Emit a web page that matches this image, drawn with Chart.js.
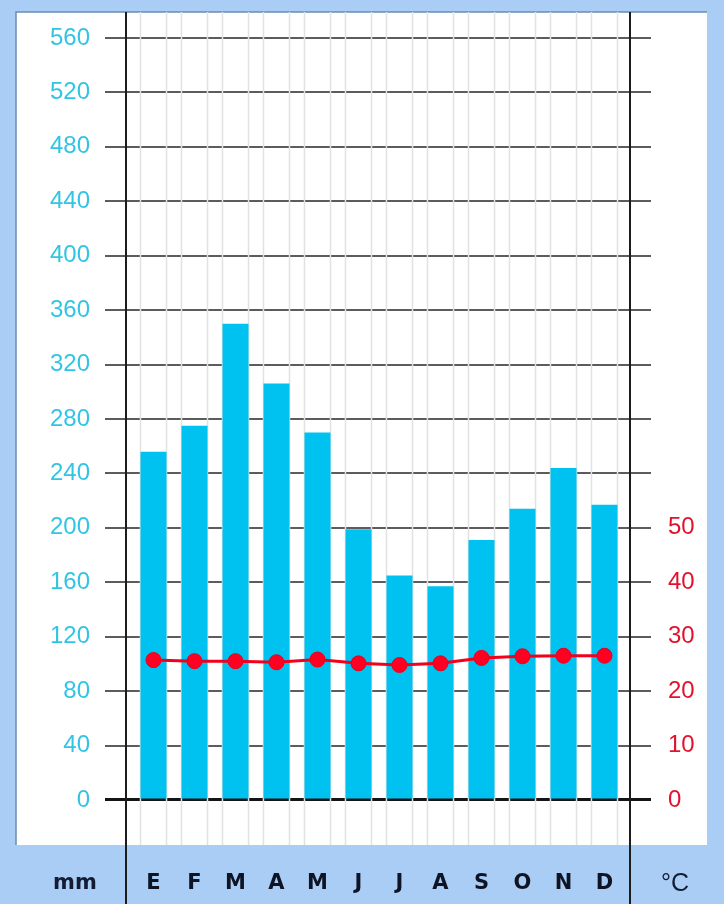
<!DOCTYPE html>
<html><head><meta charset="utf-8">
<script src="https://cdn.jsdelivr.net/npm/chart.js@4"></script>
<style>html,body{margin:0;padding:0;background:#aacdf5;overflow:hidden}canvas{display:block}</style>
</head><body>
<canvas id="c" width="724" height="904"></canvas>
<script>
const months = ['E','F','M','A','M','J','J','A','S','O','N','D'];
const precipitation = [256, 275, 350, 306, 270, 199, 165, 157, 191, 214, 244, 217];
const temperature = [25.7, 25.5, 25.5, 25.3, 25.8, 25.1, 24.8, 25.1, 26.1, 26.4, 26.5, 26.5];
const mmTicks = [0, 40, 80, 120, 160, 200, 240, 280, 320, 360, 400, 440, 480, 520, 560];
const tempTickLabels = [0, 10, 20, 30, 40, 50];
const mmUnit = 'mm';
const tempUnit = '°C';

const FONT = "'Liberation Sans', Arial, sans-serif";
const BOLDFONT = "'DejaVu Sans', 'Liberation Sans', Arial, sans-serif";

const decor = {
  id: 'decor',
  beforeDraw(chart) {
    const c = chart.ctx, a = chart.chartArea;
    c.save();
    c.fillStyle = '#aacdf5';
    c.fillRect(0, 0, chart.width, chart.height);
    c.fillStyle = '#ffffff';
    c.fillRect(16, a.top, 691, a.bottom - a.top);
    c.strokeStyle = '#6a8cb4';
    c.lineWidth = 1.5;
    c.beginPath();
    c.moveTo(16, a.bottom); c.lineTo(16, a.top); c.lineTo(707, a.top);
    c.stroke();
    c.restore();
  },
  beforeDatasetsDraw(chart) {
    const c = chart.ctx, a = chart.chartArea;
    const meta = chart.getDatasetMeta(0);
    c.save();
    c.strokeStyle = '#e2e2e2';
    c.lineWidth = 1.5;
    meta.data.forEach(b => {
      [b.x - b.width / 2, b.x + b.width / 2].forEach(x => {
        c.beginPath(); c.moveTo(x, a.top); c.lineTo(x, a.bottom); c.stroke();
      });
    });
    c.restore();
  },
  afterDraw(chart) {
    const c = chart.ctx, a = chart.chartArea;
    c.save();
    c.strokeStyle = '#1c1c1c';
    c.lineWidth = 2;
    [a.left - 7, a.right + 5].forEach(x => {
      c.beginPath(); c.moveTo(x, a.top); c.lineTo(x, chart.height); c.stroke();
    });
    c.fillStyle = '#141c33';
    c.textAlign = 'center';
    c.textBaseline = 'middle';
    c.font = 'bold 21px ' + BOLDFONT;
    c.fillText(mmUnit, 75, 884);
    c.font = '25px ' + FONT;
    c.fillText(tempUnit, 675, 884);
    c.restore();
  }
};

const gridColor = ctx => (ctx.tick && ctx.tick.value === 0) ? '#141414' : '#5c5c5c';
const gridWidth = ctx => (ctx.tick && ctx.tick.value === 0) ? 3 : 2;
const noPad = s => { s.paddingTop = 0; s.paddingBottom = 0; };

new Chart(document.getElementById('c'), {
  data: {
    labels: months,
    datasets: [
      {
        type: 'bar',
        data: precipitation,
        yAxisID: 'y',
        backgroundColor: '#00c2f0',
        categoryPercentage: 1,
        barPercentage: 0.635,
        order: 2
      },
      {
        type: 'line',
        data: temperature,
        yAxisID: 'y1',
        borderColor: '#f2001c',
        borderWidth: 3,
        pointRadius: 7.5,
        pointBackgroundColor: '#ff0022',
        pointBorderColor: '#e8001c',
        pointBorderWidth: 1,
        tension: 0,
        order: 1
      }
    ]
  },
  options: {
    responsive: false,
    animation: false,
    devicePixelRatio: 1,
    layout: { padding: { top: 12, left: 0, right: 0, bottom: 0 } },
    plugins: { legend: { display: false }, tooltip: { enabled: false } },
    scales: {
      x: {
        type: 'category',
        grid: { display: false, drawTicks: false },
        border: { display: false },
        ticks: { color: '#0e1424', font: { family: BOLDFONT, size: 21, weight: 'bold' }, padding: 26, maxRotation: 0 },
        afterFit(s) { s.height = 59; s.paddingLeft = 0; s.paddingRight = 0; }
      },
      y: {
        position: 'left',
        min: -33.1,
        max: 579.1,
        z: 1,
        afterBuildTicks(s) { s.ticks = mmTicks.map(v => ({ value: v })); },
        grid: { color: gridColor, lineWidth: gridWidth, tickLength: 28 },
        border: { display: false },
        ticks: { color: '#33c4e4', font: { family: FONT, size: 24 }, padding: 15 },
        afterFit(s) { s.width = 133; noPad(s); }
      },
      y1: {
        position: 'right',
        min: -33.1 / 4,
        max: 579.1 / 4,
        z: 1,
        afterBuildTicks(s) { s.ticks = mmTicks.map(v => ({ value: v / 4 })); },
        grid: { drawOnChartArea: false, color: gridColor, lineWidth: gridWidth, tickLength: 26 },
        border: { display: false },
        ticks: {
          color: '#e2122e', font: { family: FONT, size: 24 }, padding: 17,
          callback: v => tempTickLabels.includes(v) ? String(v) : ''
        },
        afterFit(s) { s.width = 99; noPad(s); }
      }
    }
  },
  plugins: [decor]
});
</script>
</body></html>
